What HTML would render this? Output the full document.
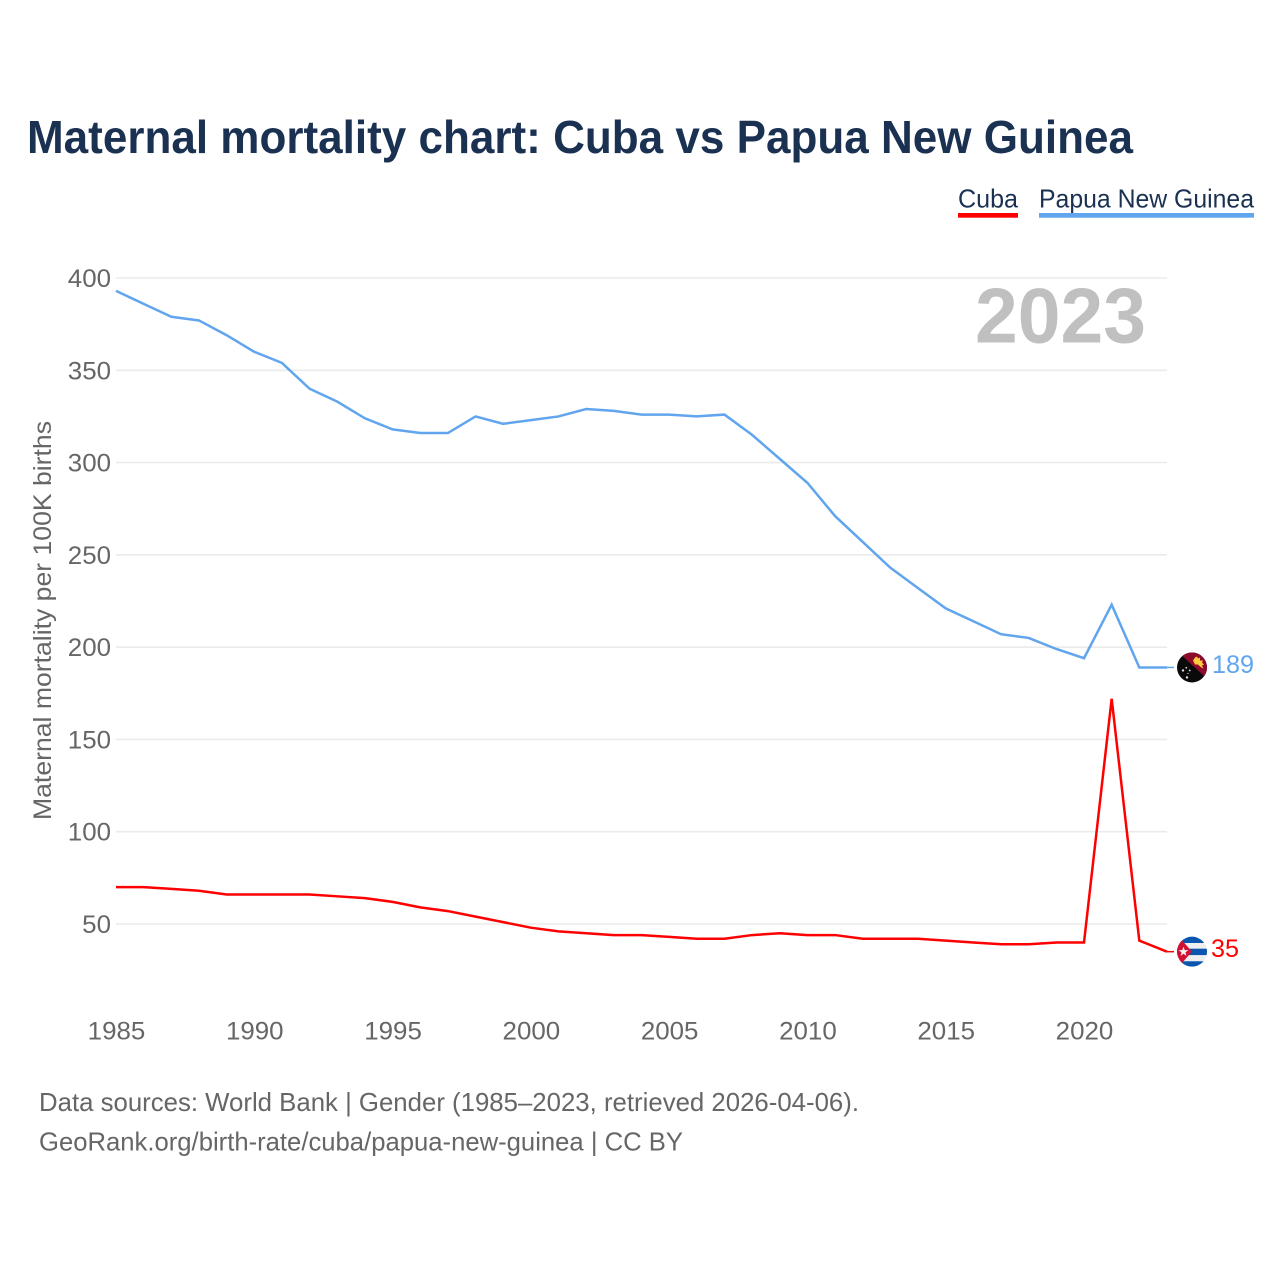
<!DOCTYPE html>
<html lang="en">
<head>
<meta charset="utf-8">
<title>Maternal mortality chart: Cuba vs Papua New Guinea</title>
<style>
  html, body { margin: 0; padding: 0; background: #fff; }
  svg { display: block; font-family: "Liberation Sans", sans-serif; }
</style>
</head>
<body>
<svg id="chart" width="1280" height="1280" viewBox="0 0 1280 1280" xmlns="http://www.w3.org/2000/svg">
  <defs>
    <clipPath id="flag-clip"><circle cx="0" cy="0" r="15"></circle></clipPath>
  </defs>
  <rect width="1280" height="1280" fill="#ffffff"></rect>

  <text x="27" y="153" font-size="46" font-weight="bold" fill="#1a3152" textLength="1106" lengthAdjust="spacingAndGlyphs">Maternal mortality chart: Cuba vs Papua New Guinea</text>

  <g>
    <text x="958" y="207.5" font-size="26" fill="#1a3152" textLength="60" lengthAdjust="spacingAndGlyphs">Cuba</text>
    <rect x="958" y="213" width="60" height="4.7" fill="#ff0000"></rect>
  </g>
  <g>
    <text x="1039" y="207.5" font-size="26" fill="#1a3152" textLength="215" lengthAdjust="spacingAndGlyphs">Papua New Guinea</text>
    <rect x="1039" y="213" width="215" height="4.7" fill="#60a5ee"></rect>
  </g>

  <text transform="translate(51,820) rotate(-90)" font-size="25" fill="#666666" textLength="399" lengthAdjust="spacingAndGlyphs">Maternal mortality per 100K births</text>

  <g id="grid"></g>
  <g id="y-ticks"></g>
  <g id="x-ticks"></g>

  <text x="975" y="342.5" font-size="78" font-weight="bold" fill="#c0c0c0" textLength="171" lengthAdjust="spacingAndGlyphs">2023</text>

  <path id="line-png" fill="none" stroke="#60a5ee" stroke-width="2.5" stroke-linejoin="miter"></path>
  <path id="line-cuba" fill="none" stroke="#ff0000" stroke-width="2.5" stroke-linejoin="miter"></path>
  <path id="connector-png" fill="none" stroke="#60a5ee" stroke-width="1.5"></path>
  <path id="connector-cuba" fill="none" stroke="#ff0000" stroke-width="1.5"></path>

  <g id="flag-png">
    <g clip-path="url(#flag-clip)">
      <rect x="-16" y="-16" width="32" height="32" fill="#0a0a0a"></rect>
      <polygon points="-16,-17.2 16,-17.2 16,12.2" fill="#8c0a2c"></polygon>
      <polygon points="1,-7 3,-10 5,-11 6,-9 8,-10 8,-7 11,-7 10,-5 12,-3 10,-2 11.5,1.3 8,-1 6,-3 3,-3" fill="#fcc93a"></polygon>
      <circle cx="-9" cy="3" r="1.2" fill="#e0e0e0"></circle>
      <circle cx="-5.7" cy="0.3" r="0.9" fill="#e0e0e0"></circle>
      <circle cx="-2.3" cy="3" r="0.9" fill="#e0e0e0"></circle>
      <circle cx="-5" cy="10" r="1.2" fill="#e0e0e0"></circle>
      <circle cx="-4" cy="6" r="0.6" fill="#e0e0e0"></circle>
    </g>
  </g>
  <g id="flag-cuba">
    <g clip-path="url(#flag-clip)">
      <rect x="-16" y="-16" width="32" height="32" fill="#eeeeee"></rect>
      <rect x="-16" y="-16" width="32" height="7.3" fill="#0a55b0"></rect>
      <rect x="-16" y="-3" width="32" height="6.4" fill="#0a55b0"></rect>
      <rect x="-16" y="9.6" width="32" height="6.4" fill="#0a55b0"></rect>
      <polygon points="-16,-18 0,0 -16,18" fill="#d21034"></polygon>
      <polygon points="-8.5,-5 -7.3,-1.6 -3.6,-1.6 -6.6,0.7 -5.5,4.2 -8.5,2.1 -11.5,4.2 -10.4,0.7 -13.4,-1.6 -9.7,-1.6" fill="#f4f4f4"></polygon>
    </g>
  </g>

  <text id="value-png" x="1212" font-size="25" fill="#60a5ee" textLength="42" lengthAdjust="spacingAndGlyphs"></text>
  <text id="value-cuba" x="1211" font-size="25" fill="#ff0000" textLength="28" lengthAdjust="spacingAndGlyphs"></text>

  <text x="39" y="1111" font-size="26" fill="#666666" textLength="820" lengthAdjust="spacingAndGlyphs">Data sources: World Bank | Gender (1985–2023, retrieved 2026-04-06).</text>
  <text x="39" y="1150.5" font-size="26" fill="#666666" textLength="644" lengthAdjust="spacingAndGlyphs">GeoRank.org/birth-rate/cuba/papua-new-guinea | CC BY</text>

  <script>
    const years = [1985,1986,1987,1988,1989,1990,1991,1992,1993,1994,1995,1996,1997,1998,1999,2000,2001,2002,2003,2004,2005,2006,2007,2008,2009,2010,2011,2012,2013,2014,2015,2016,2017,2018,2019,2020,2021,2022,2023];
    const pngValues = [393,386,379,377,369,360,354,340,333,324,318,316,316,325,321,323,325,329,328,326,326,325,326,315,302,289,271,257,243,232,221,214,207,205,199,194,223,189,189];
    const cubaValues = [70,70,69,68,66,66,66,66,65,64,62,59,57,54,51,48,46,45,44,44,43,42,42,44,45,44,44,42,42,42,41,40,39,39,40,40,172,41,35];
    const yTickValues = [50,100,150,200,250,300,350,400];
    const xTickValues = [1985,1990,1995,2000,2005,2010,2015,2020];

    const SVG_NS = 'http://www.w3.org/2000/svg';
    function xScale(year) { return 116 + (year - 1985) * (1084 - 116) / 35; }
    function yScale(value) { return 924 - (value - 50) * (924 - 278) / 350; }
    function linePath(values) {
      return values.map(function (v, i) {
        return (i ? 'L' : 'M') + xScale(years[i]).toFixed(2) + ' ' + yScale(v).toFixed(2);
      }).join(' ');
    }

    const grid = document.getElementById('grid');
    const yTicks = document.getElementById('y-ticks');
    const xTicks = document.getElementById('x-ticks');

    yTickValues.forEach(function (t) {
      const line = document.createElementNS(SVG_NS, 'line');
      
      
      line.setAttribute('x1', 116);
      line.setAttribute('x2', 1167);
      line.setAttribute('y1', yScale(t));
      line.setAttribute('y2', yScale(t));
      line.setAttribute('stroke', '#ebebeb');
      line.setAttribute('stroke-width', '1.6');
      grid.appendChild(line);

      const label = document.createElementNS(SVG_NS, 'text');
      
      
      label.setAttribute('x', 111);
      label.setAttribute('y', yScale(t) + 9);
      label.setAttribute('text-anchor', 'end');
      label.setAttribute('font-size', '25');
      label.setAttribute('fill', '#666666');
      label.setAttribute('textLength', String(t).length * 14.4);
      label.setAttribute('lengthAdjust', 'spacingAndGlyphs');
      label.textContent = t;
      yTicks.appendChild(label);
    });

    xTickValues.forEach(function (t) {
      const label = document.createElementNS(SVG_NS, 'text');
      
      
      label.setAttribute('x', xScale(t) + 0.5);
      label.setAttribute('y', 1039.5);
      label.setAttribute('text-anchor', 'middle');
      label.setAttribute('font-size', '25');
      label.setAttribute('fill', '#666666');
      label.setAttribute('textLength', String(t).length * 14.4);
      label.setAttribute('lengthAdjust', 'spacingAndGlyphs');
      label.textContent = t;
      xTicks.appendChild(label);
    });

    document.getElementById('line-png').setAttribute('d', linePath(pngValues));
    document.getElementById('line-cuba').setAttribute('d', linePath(cubaValues));

    function placeEnd(values, flagId, connectorId, valueId) {
      const last = values[values.length - 1];
      const y = yScale(last);
      document.getElementById(flagId).setAttribute('transform', 'translate(1192,' + y + ')');
      document.getElementById(connectorId).setAttribute('d', 'M1167 ' + y + ' L1174 ' + y);
      const text = document.getElementById(valueId);
      text.setAttribute('y', y + 5.5);
      text.textContent = last;
    }
    placeEnd(pngValues, 'flag-png', 'connector-png', 'value-png');
    placeEnd(cubaValues, 'flag-cuba', 'connector-cuba', 'value-cuba');
  </script>
</svg>
</body>
</html>
